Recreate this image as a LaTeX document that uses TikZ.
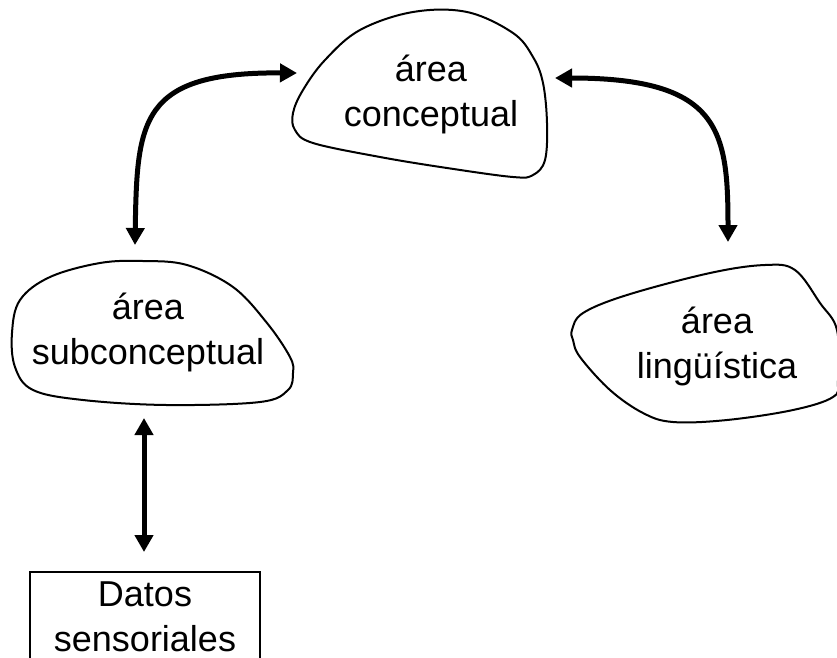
\documentclass[tikz,border=0pt]{standalone}
\usepackage{fontspec}
\setmainfont{Liberation Sans}
\usetikzlibrary{arrows.meta}

\tikzset{
  blob/.style={draw=black, line width=2pt, fill=white},
  label/.style={align=center, font=\fontsize{36}{45}\selectfont, inner sep=0pt},
  link/.style={line width=5pt, {Triangle[width=18pt,length=17pt]}-{Triangle[width=18pt,length=17pt]}},
  databox/.style={draw=black, line width=1.6pt}
}

\begin{document}
\begin{tikzpicture}[x=1pt, y=-1pt]
  \useasboundingbox (0,0) rectangle (837,657);
  \clip (0,0) rectangle (837,657);

  % blob outlines
  \draw[blob] plot[smooth cycle, tension=0.6] coordinates {
    (467,12) (513,33) (533,57) (543,83) (547,123) (545,160) (533,175)
    (513,177) (447,168) (380,157) (313,143) (295,130) (293,113) (303,90)
    (325,60) (360,30) (413,12)};
  \draw[blob] plot[smooth cycle, tension=0.6] coordinates {
    (187,265) (233,287) (267,323) (290,357) (293,373) (288,390) (260,402)
    (167,405) (83,400) (33,390) (15,367) (12,333) (20,300) (50,277)
    (100,263) (143,261)};
  \draw[blob] plot[smooth cycle, tension=0.6] coordinates {
    (572,330) (583,313) (627,295) (710,273) (765,265) (795,270) (820,303)
    (837,330) (838,380) (833,397) (793,410) (727,420) (673,422) (643,413)
    (610,390) (580,357) (573,340)};

  % sensor data box (runs past the lower edge)
  \draw[databox] (30,572) rectangle (260,680);

  % labels
  \node[label] (conc) at (431,94.5) {área\\conceptual};
  \node[label] (subc) at (148,332.5) {área\\subconceptual};
  \node[label] (ling) at (717,346.5) {área\\lingüística};
  \node[label] (datos) at (145,616.5) {Datos\\sensoriales};

  % connector end points on the outlines
  \coordinate (concW) at (297,73);
  \coordinate (concE) at (555,78);
  \coordinate (subcN) at (135,245);
  \coordinate (subcS) at (144,418);
  \coordinate (lingN) at (728,242);
  \coordinate (datosN) at (144,552);

  % connectors
  \draw[link] (concW) .. controls (140,72) and (137,120) .. (subcN);
  \draw[link] (concE) .. controls (720,78) and (728,130) .. (lingN);
  \draw[link] (subcS) -- (datosN);
\end{tikzpicture}
\end{document}
